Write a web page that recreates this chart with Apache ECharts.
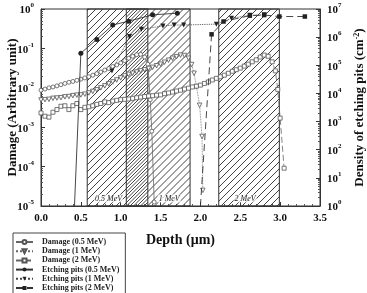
<!DOCTYPE html>
<html><head><meta charset="utf-8">
<script src="https://cdn.jsdelivr.net/npm/echarts@6/dist/echarts.min.js"></script>
<style>html,body{margin:0;padding:0;background:#fff}#c{width:367px;height:293px}</style>
</head><body><div id="c"></div>
<script>
// ---- data ----
const seriesNames = ['Damage (0.5 MeV)','Damage (1 MeV)','Damage (2 MeV)','Etching pits (0.5 MeV)','Etching pits (1 MeV)','Etching pits (2 MeV)'];

const depthDmg05 = [0,0.05,0.10,0.15,0.20,0.25,0.30,0.35,0.40,0.45,0.50,0.55,0.60,0.65,0.70,0.75,0.80,0.85,0.90,0.95,1.00,1.05,1.10,1.15,1.20,1.25,1.30,1.34,1.37,1.39,1.42];
const dmg05 = [0.0087,0.0093,0.0100,0.0105,0.0112,0.0120,0.0129,0.0138,0.0145,0.0155,0.0166,0.0178,0.0191,0.0209,0.0229,0.0251,0.0282,0.0309,0.0347,0.0380,0.0427,0.0490,0.0562,0.0631,0.0692,0.0708,0.0603,0.0398,0.0050,0.00079,0.0000126];

const depthDmg1 = [0,0.05,0.10,0.15,0.20,0.25,0.30,0.35,0.40,0.45,0.50,0.55,0.60,0.65,0.70,0.75,0.80,0.85,0.90,0.95,1.00,1.05,1.10,1.15,1.20,1.25,1.30,1.35,1.40,1.45,1.50,1.55,1.60,1.65,1.70,1.75,1.80,1.85,1.89,1.92,1.95,1.99,2.02,2.03];
const dmg1 = [0.0049,0.0050,0.0051,0.0054,0.0055,0.0056,0.0059,0.0060,0.0063,0.0065,0.0066,0.0069,0.0074,0.0081,0.0089,0.0100,0.0112,0.0126,0.0141,0.0158,0.0178,0.0200,0.0219,0.0234,0.0251,0.0269,0.0288,0.0309,0.0331,0.0363,0.0398,0.0447,0.0501,0.0562,0.0617,0.0676,0.0661,0.0562,0.0389,0.0234,0.0107,0.0036,0.00058,0.000025];

const depthDmg2 = [0,0.05,0.10,0.15,0.20,0.25,0.30,0.35,0.40,0.45,0.50,0.55,0.60,0.65,0.70,0.75,0.80,0.85,0.90,0.95,1.00,1.05,1.10,1.15,1.20,1.25,1.30,1.35,1.40,1.45,1.50,1.55,1.60,1.65,1.70,1.75,1.80,1.85,1.90,1.95,2.00,2.05,2.10,2.15,2.20,2.25,2.30,2.35,2.40,2.45,2.50,2.55,2.60,2.65,2.70,2.75,2.80,2.85,2.90,2.94,2.97,3.00,3.05];
const dmg2 = [0.0023,0.0019,0.0018,0.0024,0.0028,0.0034,0.0035,0.0028,0.0035,0.0040,0.0028,0.0032,0.0033,0.0035,0.0038,0.0040,0.0044,0.0042,0.0046,0.0048,0.0050,0.0051,0.0052,0.0054,0.0056,0.0058,0.0060,0.0062,0.0063,0.0065,0.0066,0.0071,0.0074,0.0078,0.0083,0.0087,0.0093,0.0098,0.0105,0.0110,0.0117,0.0129,0.0141,0.0158,0.0174,0.0191,0.0209,0.0234,0.0263,0.0288,0.0316,0.0355,0.0398,0.0457,0.0513,0.0603,0.0676,0.0631,0.0457,0.0269,0.0091,0.0017,0.000091];

const depthPits05 = [0.42,0.50,0.70,0.90,1.10,1.40,1.71];
const pits05 = [1,2.7e5,8.3e5,2.7e6,3.7e6,6.2e6,7.1e6];

const depthPits1 = [0.89,1.11,1.26,1.53,1.67,1.79,2.20,2.39,2.62,2.80];
const pits1 = [6.3e4,1.05e6,1.9e6,2.5e6,2.7e6,2.7e6,2.9e6,4.7e6,6.0e6,6.2e6];

const depthPits2 = [2.00,2.14,2.29,2.62,2.80,2.99,3.31];
const pits2 = [1,1.26e6,3.6e6,5.8e6,6.1e6,5.4e6,5.4e6];

const regionStart = [0.58,1.07,2.23];
const regionEnd = [1.34,1.87,2.99];
const regionLabel = ['0.5 MeV','1 MeV','2 MeV'];

const xTicks = [0,0.5,1,1.5,2,2.5,3,3.5];
// ---- chart ----
const FONT = 'Liberation Serif';
function hatch(shift){
  const c = document.createElement('canvas'); c.width = 7; c.height = 7;
  const g = c.getContext('2d');
  g.strokeStyle = '#444'; g.lineWidth = 1;
  g.beginPath();
  for (let k = -1; k <= 2; k++) {
    const s = shift + 7 * k;
    g.moveTo(-1, s + 1); g.lineTo(8, s - 8);
  }
  g.stroke();
  return c;
}
const patA = {image: hatch(7), repeat: 'repeat'};
const patB = {image: hatch(3.5), repeat: 'repeat'};

function pair(xs, ys){ return xs.map((x,i)=>[x, ys[i]]); }
function minorVals(lo, hi){
  const out = [];
  for (let e = lo; e < hi; e++) for (let m = 2; m <= 9; m++) out.push(m * Math.pow(10, e));
  return out;
}
function expLabel(v){ const e = Math.round(Math.log10(v)); return '{b|10}{s|' + e + '}'; }
const richLab = {
  b: {fontFamily: FONT, fontWeight: 'bold', fontSize: 11, color: '#111', lineHeight: 14, verticalAlign: 'bottom'},
  s: {fontFamily: FONT, fontWeight: 'bold', fontSize: 7, color: '#111', lineHeight: 14, verticalAlign: 'top'}
};

const labOffsets = [[-9,0],[11,0],[-4,0]];
const areas = regionStart.map((s,i)=>[
  {xAxis: s, itemStyle: {color: i === 1 ? patB : patA}, label: {offset: labOffsets[i]}, name: regionLabel[i]},
  {xAxis: regionEnd[i]}
]);

const dmgStyle = {color: '#666', width: 0.8};
const chart = echarts.init(document.getElementById('c'), null, {renderer: 'canvas'});
chart.setOption({
  animation: false,
  backgroundColor: '#fff',
  grid: {left: 41, right: 47, top: 9, bottom: 87, show: true, borderColor: '#333', borderWidth: 1, containLabel: false, outerBoundsMode: 'none'},
  legend: {
    data: seriesNames, orient: 'vertical', left: 13, top: 233, height: 120,
    itemWidth: 17, itemHeight: 5, itemGap: 1.2,
    padding: [5, 6, 8, 2], borderColor: '#444', borderWidth: 1,
    textStyle: {fontFamily: FONT, fontWeight: 'bold', fontSize: 8, color: '#222', lineHeight: 8, padding: [0,0,0,4]}
  },
  xAxis: {
    type: 'value', min: 0, max: 3.5, interval: 0.5,
    name: 'Depth (μm)', nameLocation: 'middle', nameGap: 27, nameMoveOverlap: false,
    nameTextStyle: {fontFamily: FONT, fontWeight: 'bold', fontSize: 14, color: '#111'},
    axisLine: {lineStyle: {color: '#333'}},
    axisTick: {inside: true, length: 4, lineStyle: {color: '#333'}},
    minorTick: {show: true, splitNumber: 5, length: 2, lineStyle: {color: '#555'}},
    splitLine: {show: false},
    axisLabel: {margin: 7, fontFamily: FONT, fontWeight: 'bold', fontSize: 11, color: '#111', formatter: v => v.toFixed(1), customValues: xTicks}
  },
  yAxis: [
    {
      type: 'log', logBase: 10, min: 1e-5, max: 1, position: 'left',
      name: 'Damage (Arbitrary unit)', nameLocation: 'middle', nameGap: 22, nameRotate: 90, nameMoveOverlap: false,
      nameTextStyle: {fontFamily: FONT, fontWeight: 'bold', fontSize: 13, color: '#111'},
      axisLine: {show: true, lineStyle: {color: '#333'}},
      axisTick: {inside: true, length: 4, lineStyle: {color: '#333'}},
      splitLine: {show: false},
      axisLabel: {margin: 7, formatter: expLabel, rich: richLab}
    },
    {
      type: 'log', logBase: 10, min: 1, max: 1e7, position: 'right',
      name: 'Density of etching pits (cm{s|-2})', nameLocation: 'middle', nameGap: 33, nameRotate: 90, nameMoveOverlap: false,
      nameTextStyle: {fontFamily: FONT, fontWeight: 'bold', fontSize: 13, color: '#111',
        rich: {s: {fontFamily: FONT, fontWeight: 'bold', fontSize: 8, verticalAlign: 'top', lineHeight: 14}}},
      axisLine: {show: true, lineStyle: {color: '#333'}},
      axisTick: {inside: true, length: 4, lineStyle: {color: '#333'}},
      splitLine: {show: false},
      axisLabel: {margin: 7, formatter: expLabel, rich: richLab}
    },
    {
      type: 'log', logBase: 10, min: 1e-5, max: 1, position: 'left', offset: 0,
      axisLine: {show: false}, splitLine: {show: false},
      axisTick: {show: true, inside: true, length: 2, lineStyle: {color: '#555'}, customValues: minorVals(-5, 0)},
      axisLabel: {show: false}
    },
    {
      type: 'log', logBase: 10, min: 1, max: 1e7, position: 'right', offset: 0,
      axisLine: {show: false}, splitLine: {show: false},
      axisTick: {show: true, inside: true, length: 2, lineStyle: {color: '#555'}, customValues: minorVals(0, 7)},
      axisLabel: {show: false}
    }
  ],
  series: [
    {
      type: 'line', yAxisIndex: 0, data: [], z: 1, silent: true,
      markArea: {
        silent: true,
        itemStyle: {borderColor: '#333', borderWidth: 1},
        label: {show: true, position: 'insideBottom', distance: 4, fontFamily: FONT, fontStyle: 'italic', fontSize: 8, color: '#222',
          backgroundColor: 'rgba(255,255,255,0.75)', padding: [0,1]},
        data: areas
      }
    },
    {name: seriesNames[0], type: 'line', yAxisIndex: 0, z: 3, data: pair(depthDmg05, dmg05),
      symbol: 'circle', symbolSize: 4, itemStyle: {color: '#fff', borderColor: '#555', borderWidth: 0.8},
      lineStyle: dmgStyle},
    {name: seriesNames[1], type: 'line', yAxisIndex: 0, z: 3, data: pair(depthDmg1, dmg1),
      symbol: 'triangle', symbolRotate: 180, symbolSize: 4.5, itemStyle: {color: '#fff', borderColor: '#555', borderWidth: 0.8},
      lineStyle: {color: '#666', width: 0.8, type: 'dotted'}},
    {name: seriesNames[2], type: 'line', yAxisIndex: 0, z: 3, data: pair(depthDmg2, dmg2),
      symbol: 'rect', symbolSize: 4, itemStyle: {color: '#fff', borderColor: '#555', borderWidth: 0.8},
      lineStyle: {color: '#666', width: 0.8, type: [6, 3]}},
    {name: seriesNames[3], type: 'line', yAxisIndex: 1, z: 4,
      data: pair(depthPits05, pits05).map((p,i)=> i === 0 ? {value: p, symbol: 'none'} : p),
      symbol: 'circle', symbolSize: 5, itemStyle: {color: '#222'},
      lineStyle: {color: '#333', width: 0.9}},
    {name: seriesNames[4], type: 'line', yAxisIndex: 1, z: 4, data: pair(depthPits1, pits1),
      symbol: 'triangle', symbolRotate: 180, symbolSize: 5, itemStyle: {color: '#222'},
      lineStyle: {color: '#444', width: 0.9, type: 'dotted'}},
    {name: seriesNames[5], type: 'line', yAxisIndex: 1, z: 4,
      data: pair(depthPits2, pits2).map((p,i)=> i === 0 ? {value: p, symbol: 'none'} : p),
      symbol: 'rect', symbolSize: 4.5, itemStyle: {color: '#222'},
      lineStyle: {color: '#333', width: 0.9, type: [7, 4]}}
  ]
});
</script></body></html>
